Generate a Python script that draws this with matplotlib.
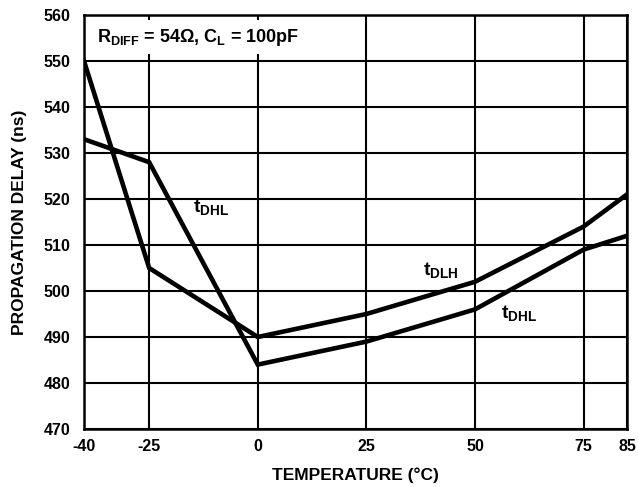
import matplotlib
matplotlib.use("Agg")
import matplotlib.pyplot as plt

plt.rcParams['font.family'] = ['Liberation Sans', 'DejaVu Sans']
plt.rcParams['font.weight'] = 'bold'
plt.rcParams['mathtext.fontset'] = 'custom'
plt.rcParams['mathtext.rm'] = 'Liberation Sans'
plt.rcParams['mathtext.bf'] = 'Liberation Sans:bold'
plt.rcParams['mathtext.it'] = 'Liberation Sans:bold'
plt.rcParams['mathtext.default'] = 'bf'

temps = [-40, -25, 0, 25, 50, 75, 85]
t_dlh = [550, 505, 490, 495, 502, 514, 521]
t_dhl = [533, 528, 484, 489, 496, 509, 512]
xticks = [-40, -25, 0, 25, 50, 75, 85]
yticks = [470, 480, 490, 500, 510, 520, 530, 540, 550, 560]

fig = plt.figure(figsize=(6.39, 4.87), dpi=100)
ax = fig.add_axes([84/639, 1-429/487, (627-84)/639, (429-15)/487])

ax.plot(temps, t_dlh, color='black', lw=3.3, solid_joinstyle='miter', zorder=3)
ax.plot(temps, t_dhl, color='black', lw=3.3, solid_joinstyle='miter', zorder=3)

ax.set_xlim(-40, 85)
ax.set_ylim(470, 560)
ax.set_xticks(xticks)
ax.set_yticks(yticks)
ax.set_xticklabels([str(v) for v in xticks], fontsize=11.5, fontweight='bold')
ax.set_yticklabels([str(v) for v in yticks], fontsize=11.5, fontweight='bold')
ax.tick_params(axis='x', length=0, pad=7)
ax.tick_params(axis='y', length=0, pad=10)
ax.grid(True, color='black', lw=1.5, zorder=1)
for s in ax.spines.values():
    s.set_linewidth(1.8)

ax.set_xlabel('TEMPERATURE (°C)', fontsize=12.5, fontweight='bold', labelpad=10)
ax.set_ylabel('PROPAGATION DELAY (ns)', fontsize=12.5, fontweight='bold', labelpad=12)

ax.text(-37, 554.2, r'R$_{DIFF}$ = 54$\mathrm{\Omega}$, C$_{L}$ = 100pF',
        fontsize=13, fontweight='bold', va='baseline', ha='left', zorder=4,
        bbox=dict(facecolor='white', edgecolor='none', boxstyle='square,pad=0.35'))
ax.text(-15, 517.2, r't$_{DHL}$', fontsize=14, fontweight='bold', va='baseline', zorder=4)
ax.text(38.1, 503.5, r't$_{DLH}$', fontsize=14, fontweight='bold', va='baseline', zorder=4)
ax.text(55.9, 494.1, r't$_{DHL}$', fontsize=14, fontweight='bold', va='baseline', zorder=4)

fig.savefig('out.png', dpi=100)
